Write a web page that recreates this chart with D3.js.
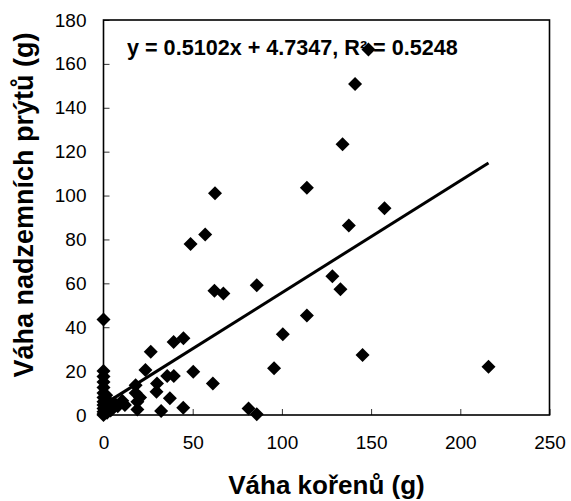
<!DOCTYPE html>
<html>
<head>
<meta charset="utf-8">
<script src="https://cdn.jsdelivr.net/npm/d3@7"></script>
<style>
  html, body { margin: 0; padding: 0; background: #fff; }
  svg { display: block; }
  text { font-family: "Liberation Sans", Arial, sans-serif; fill: #000; }
</style>
</head>
<body>
<svg id="chart" width="571" height="501"></svg>
<script>
// Root weight (x) and above-ground shoot weight (y), grams
const rootWeight = [
  0, 0, 0, 0, 0, 0, 0, 0, 0, 0, 0, 0, 0,
  1.5, 2, 2, 3, 4, 5, 6, 8, 10.5, 12,
  18, 18, 19, 19, 20.5, 23.5, 26.5,
  30, 29.7, 32.3, 35.7, 37.2, 39.4, 39.3, 44.8, 44.7, 50.3,
  48.8, 57, 62.2, 62.5, 67.2, 61.3,
  81.3, 85.9, 85.9, 95.6, 100.5,
  114, 114, 128.3, 132.8, 134, 137.5, 141, 145.2, 148.5, 157.5, 215.8
];
const shootWeight = [
  43.5, 20, 17.5, 15, 12.5, 10, 8, 6, 4.5, 3, 1.5, 0.5, 0,
  9, 1, 7, 5, 2, 3, 5.5, 4, 6.5, 4.5,
  13.5, 10, 6, 2.5, 8, 20.5, 28.8,
  14.4, 10.6, 1.8, 17.8, 7.6, 17.8, 33.3, 35, 3.3, 19.7,
  77.9, 82.3, 56.6, 101, 55.4, 14.4,
  3, 0.3, 59.1, 21.3, 36.8,
  103.6, 45.3, 63.2, 57.3, 123.4, 86.4, 150.8, 27.3, 166.5, 94.2, 22
];
const xTicks = [0, 50, 100, 150, 200, 250];
const yTicks = [0, 20, 40, 60, 80, 100, 120, 140, 160, 180];

// Linear trend line
const slope = 0.5102;
const intercept = 4.7347;
const rSquared = 0.5248;
const equationLabel = "y = 0.5102x + 4.7347, R² = 0.5248";

const xTitle = "Váha kořenů (g)";
const yTitle = "Váha nadzemních prýtů (g)";

const svg = d3.select("#chart");
const plotLeft = 103.5, plotRight = 549.5, plotTop = 20, plotBottom = 415;

const x = d3.scaleLinear().domain([0, 250]).range([plotLeft, plotRight]);
const y = d3.scaleLinear().domain([0, 180]).range([plotBottom, plotTop]);

// Axes with inward ticks
const xAxis = d3.axisBottom(x).tickValues(xTicks).tickSize(-6).tickPadding(16).tickFormat(d3.format("d"));
const yAxis = d3.axisLeft(y).tickValues(yTicks).tickSize(-6).tickPadding(17).tickFormat(d3.format("d"));

const gx = svg.append("g").attr("transform", `translate(0,${plotBottom})`).call(xAxis);
const gy = svg.append("g").attr("transform", `translate(${plotLeft},0)`).call(yAxis);
[gx, gy].forEach(g => {
  g.select(".domain").remove();
  g.selectAll(".tick line").attr("stroke", "#333").attr("stroke-width", 1);
  g.selectAll(".tick text").style("font-size", "19px").attr("fill", "#000");
});
gx.selectAll(".tick text").attr("dy", "0.95em");

// Plot frame
svg.append("rect")
  .attr("x", plotLeft).attr("y", plotTop)
  .attr("width", plotRight - plotLeft).attr("height", plotBottom - plotTop)
  .attr("fill", "none").attr("stroke", "#000").attr("stroke-width", 1.6);

// Trend line over the observed x range
const xExtent = d3.extent(rootWeight);
svg.append("line")
  .attr("x1", x(xExtent[0])).attr("y1", y(slope * xExtent[0] + intercept))
  .attr("x2", x(xExtent[1])).attr("y2", y(slope * xExtent[1] + intercept))
  .attr("stroke", "#000").attr("stroke-width", 3);

// Equation label
svg.append("text")
  .attr("x", 127).attr("y", 54.5)
  .style("font-size", "21.6px").style("font-weight", "bold")
  .text(equationLabel);

// Diamond markers
const pts = rootWeight.map((d, i) => [d, shootWeight[i]]);
const diamond = d3.symbol().type(d3.symbolSquare).size(98);
svg.append("g").selectAll("path").data(pts).join("path")
  .attr("d", diamond)
  .attr("transform", d => `translate(${x(d[0])},${y(d[1])}) rotate(45)`)
  .attr("fill", "#000");

// Axis titles
svg.append("text")
  .attr("x", (plotLeft + plotRight) / 2).attr("y", 494)
  .attr("text-anchor", "middle")
  .style("font-size", "26px").style("font-weight", "bold")
  .text(xTitle);

svg.append("text")
  .attr("transform", `translate(33,${205}) rotate(-90)`)
  .attr("text-anchor", "middle")
  .style("font-size", "27px").style("font-weight", "bold")
  .text(yTitle);
</script>
</body>
</html>
